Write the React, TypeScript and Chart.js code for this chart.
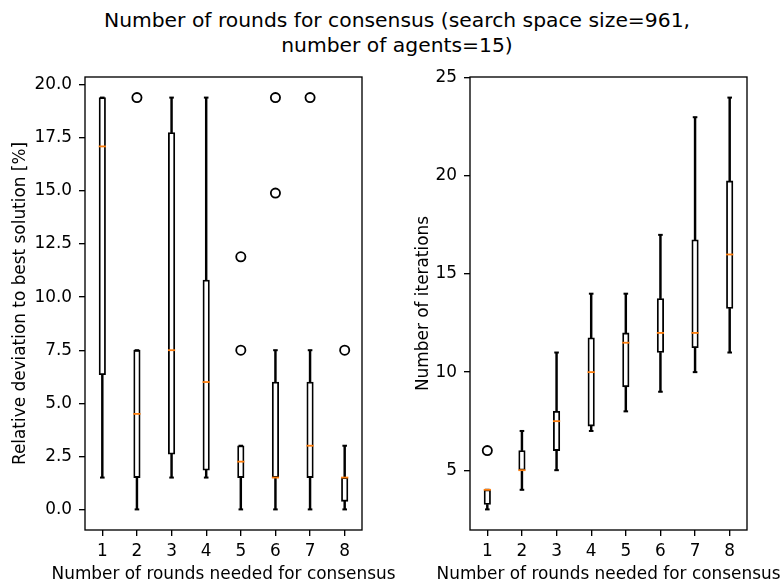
import React, { useEffect, useRef } from "react";
import { Chart, registerables } from "chart.js";

Chart.register(...registerables);

const categories = [1, 2, 3, 4, 5, 6, 7, 8];

const leftMin = [1.5, 0, 1.5, 1.5, 0, 0, 0, 0];
const leftQ1 = [6.35, 1.5, 2.6, 1.85, 1.5, 1.5, 1.5, 0.38];
const leftMed = [17.1, 4.5, 7.5, 6.0, 2.25, 1.5, 3.0, 1.5];
const leftQ3 = [19.4, 7.5, 17.75, 10.8, 3.0, 6.0, 6.0, 1.5];
const leftMax = [19.4, 7.5, 19.4, 19.4, 3.0, 7.5, 7.5, 3.0];
const leftOutliers = [[], [19.4], [], [], [11.9, 7.5], [19.4, 14.9], [19.4], [7.5]];
const leftTicks = [0, 2.5, 5, 7.5, 10, 12.5, 15, 17.5, 20];

const rightMin = [3, 4, 5, 7, 8, 9, 10, 11];
const rightQ1 = [3.25, 5, 6, 7.25, 9.25, 11, 11.25, 13.25];
const rightMed = [4, 5, 7.5, 10, 11.5, 12, 12, 16];
const rightQ3 = [4, 6, 8, 11.75, 12, 13.75, 16.75, 19.75];
const rightMax = [4, 7, 11, 14, 14, 17, 23, 24];
const rightOutliers = [[6], [], [], [], [], [], [], []];
const rightTicks = [5, 10, 15, 20, 25];

const titleLines = [
  "Number of rounds for consensus (search space size=961,",
  "number of agents=15)",
];
const xLabel = "Number of rounds needed for consensus";
const leftYLabel = "Relative deviation to best solution [%]";
const rightYLabel = "Number of iterations";

const FONT = "DejaVu Sans";
const FS = 16.9;

const framePlugin = {
  id: "frame",
  afterDraw(chart: any) {
    const { ctx, chartArea } = chart;
    ctx.save();
    ctx.strokeStyle = "#000";
    ctx.lineWidth = 1.35;
    ctx.strokeRect(chartArea.left, chartArea.top, chartArea.right - chartArea.left, chartArea.bottom - chartArea.top);
    ctx.restore();
  },
};

function makeConfig(
  mins: number[], q1: number[], med: number[], q3: number[], maxs: number[], outl: number[][],
  yMin: number, yMax: number, yTicks: number[], decimals: number, yLabel: string,
  yWidth: number, padRight: number, yTitlePad: number
): any {
  const whiskers: any[] = [];
  const boxes: any[] = [];
  const caps: any[] = [];
  const medians: any[] = [];
  const outliers: any[] = [];
  categories.forEach((c, i) => {
    whiskers.push({ x: c, y: [mins[i], q1[i]] });
    whiskers.push({ x: c, y: [q3[i], maxs[i]] });
    boxes.push({ x: c, y: [q1[i], q3[i]] });
    caps.push({ x: c, y: mins[i] });
    caps.push({ x: c, y: maxs[i] });
    medians.push({ x: c, y: med[i] });
    outl[i].forEach((v) => outliers.push({ x: c, y: v }));
  });
  return {
    type: "bar",
    data: {
      datasets: [
        {
          type: "scatter", data: medians, order: 0, pointStyle: "line", pointRadius: 3.6,
          borderColor: "#ff7f0e", borderWidth: 1.8, backgroundColor: "#ff7f0e",
        },
        {
          type: "scatter", data: caps, order: 1, pointStyle: "line", pointRadius: 2.3,
          borderColor: "#000", borderWidth: 2, backgroundColor: "#000",
        },
        {
          type: "scatter", data: outliers, order: 1, pointStyle: "circle", pointRadius: 4.6,
          borderColor: "#000", borderWidth: 1.8, backgroundColor: "rgba(0,0,0,0)",
        },
        {
          type: "bar", data: boxes, order: 2, barThickness: 6.5, grouped: false,
          backgroundColor: "#fff", borderColor: "#000", borderWidth: 1.8, borderSkipped: false,
        },
        {
          type: "bar", data: whiskers, order: 3, barThickness: 1.8, grouped: false,
          backgroundColor: "#000", borderWidth: 0,
        },
      ],
    },
    options: {
      responsive: false,
      animation: false,
      events: [],
      layout: { padding: { top: 77, right: padRight, left: 0, bottom: 0 } },
      plugins: { legend: { display: false }, tooltip: { enabled: false }, title: { display: false } },
      scales: {
        x: {
          type: "linear", min: 0.5, max: 8.5, offset: false,
          afterFit: (s: any) => { s.height = 56; },
          afterBuildTicks: (s: any) => { s.ticks = categories.map((v) => ({ value: v })); },
          grid: { display: true, drawOnChartArea: false, offset: false, tickLength: 6, color: "#000", tickWidth: 1.35, lineWidth: 1.35 },
          border: { display: false },
          ticks: { color: "#000", font: { family: FONT, size: FS }, padding: 5, maxRotation: 0, autoSkip: false, callback: (v: any) => String(v) },
          title: { display: false },
        },
        y: {
          type: "linear", min: yMin, max: yMax,
          afterFit: (s: any) => { s.width = yWidth; },
          afterBuildTicks: (s: any) => { s.ticks = yTicks.map((v) => ({ value: v })); },
          grid: { display: true, drawOnChartArea: false, tickLength: 6, color: "#000", tickWidth: 1.35, lineWidth: 1.35 },
          border: { display: false },
          ticks: { color: "#000", font: { family: FONT, size: FS }, padding: 7, callback: (v: any) => Number(v).toFixed(decimals) },
          title: { display: true, text: yLabel, color: "#000", font: { family: FONT, size: FS }, padding: { top: yTitlePad, bottom: 0 } },
        },
      },
    },
    plugins: [framePlugin],
  };
}

function Panel(props: { config: any; left: number }) {
  const ref = useRef<HTMLCanvasElement | null>(null);
  useEffect(() => {
    if (!ref.current) return;
    const chart = new Chart(ref.current, props.config);
    return () => chart.destroy();
  }, []);
  return (
    <canvas
      ref={ref}
      width={390}
      height={586}
      style={{ position: "absolute", left: props.left, top: 0, width: 390, height: 586 }}
    />
  );
}

function XLabel(props: { center: number }) {
  return (
    <div style={{ position: "absolute", left: props.center - 250, top: 563, width: 500, textAlign: "center", whiteSpace: "nowrap", fontFamily: FONT, fontSize: FS, lineHeight: "20px", color: "#000" }}>
      {xLabel}
    </div>
  );
}

export default function App() {
  const leftCfg = makeConfig(leftMin, leftQ1, leftMed, leftQ3, leftMax, leftOutliers,
    -0.97, 20.37, leftTicks, 1, leftYLabel, 85, 28, 10);
  const rightCfg = makeConfig(rightMin, rightQ1, rightMed, rightQ3, rightMax, rightOutliers,
    1.95, 25.05, rightTicks, 0, rightYLabel, 80, 33, 23);
  return (
    <div style={{ position: "absolute", left: 0, top: 0, width: 780, height: 586, background: "#fff", overflow: "hidden" }}>
      <div style={{ position: "absolute", left: 0, top: 8, width: 794, textAlign: "center", fontFamily: FONT, fontSize: 20.3, lineHeight: "25px", color: "#000" }}>
        {titleLines.map((t, i) => (<div key={i}>{t}</div>))}
      </div>
      <Panel config={leftCfg} left={0} />
      <Panel config={rightCfg} left={390} />
      <XLabel center={223.5} />
      <XLabel center={608.5} />
    </div>
  );
}
